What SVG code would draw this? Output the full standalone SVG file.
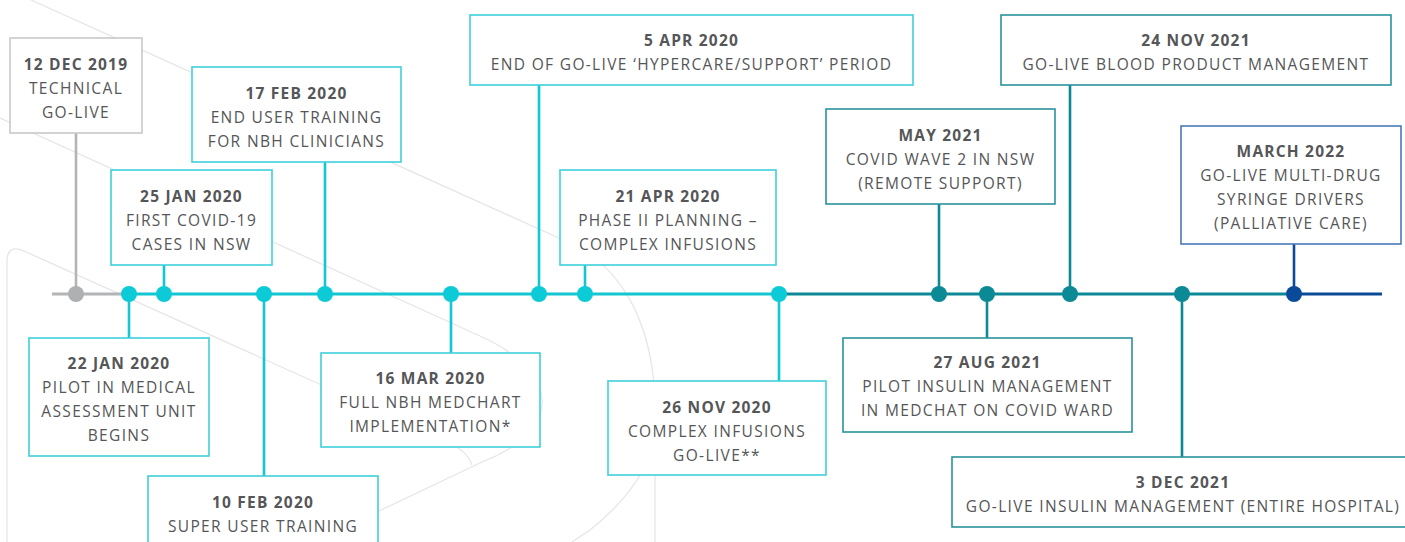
<svg xmlns="http://www.w3.org/2000/svg" width="1405" height="542" viewBox="0 0 1405 542">
<style>
.bg{fill:none;stroke:#e6e6e6;stroke-width:1.3}
.box{fill:#fff;stroke-width:1.6}
.g .box{stroke:#c9c9c9}
.c .box{stroke:#3fd0da}
.d .box{stroke:#2a939d}
.n .box{stroke:#4a78b8}
text{font-family:"Open Sans","Liberation Sans",sans-serif;font-size:15.5px;fill:#555658;text-anchor:middle;letter-spacing:1.35px}
.h{font-weight:700;letter-spacing:1.2px}
.ln{fill:none;stroke-width:2.6}
.tl{fill:none;stroke-width:3}
.gs{stroke:#b2b4b6}
.cs{stroke:#12c6d2}
.ds{stroke:#0b8a95}
.ns{stroke:#0b4a98}
.gf{fill:#aeb0b2}
.cf{fill:#0ccbd6}
.df{fill:#0b8a95}
.nf{fill:#0b4a98}
</style>
<rect width="1405" height="542" fill="#fff"/>
<g id="background">
<path class="bg" d="M31 0 L570 243 C620 266 652 320 655 400 L655 542"/>
<path class="bg" d="M0 118 L480 336 C560 372 565 430 482 462 L150 620"/>
<path class="bg" d="M7 542 L7 260 Q8 244 24 251 L448 442 Q468 452 472 465"/>
<path class="bg" d="M642 472 Q625 502 590 530 L572 542"/>
</g>
<g id="connectors">
<path class="tl gs" d="M52 294 H129"/>
<path class="tl cs" d="M129 294 H779"/>
<path class="tl ds" d="M779 294 H1294"/>
<path class="tl ns" d="M1294 294 H1382"/>
<path class="ln gs" d="M76 133 V294"/>
<path class="ln cs" d="M129 294 V338 M164 265 V294 M264 294 V476 M325 162 V294 M451 294 V353 M539 85 V294 M585 265 V294 M779 294 V381"/>
<path class="ln ds" d="M939 204 V294 M987 294 V338 M1070 85 V294 M1182 294 V457"/>
<path class="ln ns" d="M1294 244 V294"/>
<circle class="gf" cx="76" cy="294" r="8"/>
<circle class="cf" cx="129" cy="294" r="8"/>
<circle class="cf" cx="164" cy="294" r="8"/>
<circle class="cf" cx="264" cy="294" r="8"/>
<circle class="cf" cx="325" cy="294" r="8"/>
<circle class="cf" cx="451" cy="294" r="8"/>
<circle class="cf" cx="539" cy="294" r="8"/>
<circle class="cf" cx="585" cy="294" r="8"/>
<circle class="cf" cx="779" cy="294" r="8"/>
<circle class="df" cx="939" cy="294" r="8"/>
<circle class="df" cx="987" cy="294" r="8"/>
<circle class="df" cx="1070" cy="294" r="8"/>
<circle class="df" cx="1182" cy="294" r="8"/>
<circle class="nf" cx="1294" cy="294" r="8"/>
</g>
<g id="n-12dec2019" class="g"><rect class="box" x="10" y="38" width="132" height="95"/>
<text x="76" y="70" class="h">12 DEC 2019</text><text x="76" y="94">TECHNICAL</text><text x="76" y="118">GO-LIVE</text></g>
<g id="n-17feb2020" class="c"><rect class="box" x="192" y="67" width="209" height="95"/>
<text x="296.5" y="99" class="h">17 FEB 2020</text><text x="296.5" y="123">END USER TRAINING</text><text x="296.5" y="147">FOR NBH CLINICIANS</text></g>
<g id="n-25jan2020" class="c"><rect class="box" x="111" y="170" width="161" height="95"/>
<text x="191.5" y="202" class="h">25 JAN 2020</text><text x="191.5" y="226">FIRST COVID-19</text><text x="191.5" y="250">CASES IN NSW</text></g>
<g id="n-22jan2020" class="c"><rect class="box" x="29" y="338" width="180" height="118"/>
<text x="119" y="369" class="h">22 JAN 2020</text><text x="119" y="393">PILOT IN MEDICAL</text><text x="119" y="417">ASSESSMENT UNIT</text><text x="119" y="441">BEGINS</text></g>
<g id="n-10feb2020" class="c"><rect class="box" x="148" y="476" width="230" height="90"/>
<text x="263" y="508" class="h">10 FEB 2020</text><text x="263" y="532">SUPER USER TRAINING</text></g>
<g id="n-16mar2020" class="c"><rect class="box" x="321" y="353" width="219" height="94"/>
<text x="430.5" y="384" class="h">16 MAR 2020</text><text x="430.5" y="408">FULL NBH MEDCHART</text><text x="430.5" y="432">IMPLEMENTATION*</text></g>
<g id="n-5apr2020" class="c"><rect class="box" x="470" y="15" width="443" height="70"/>
<text x="691.5" y="46" class="h">5 APR 2020</text><text x="691.5" y="70">END OF GO-LIVE ‘HYPERCARE/SUPPORT’ PERIOD</text></g>
<g id="n-21apr2020" class="c"><rect class="box" x="560" y="170" width="216" height="95"/>
<text x="668" y="202" class="h">21 APR 2020</text><text x="668" y="226">PHASE II PLANNING –</text><text x="668" y="250">COMPLEX INFUSIONS</text></g>
<g id="n-26nov2020" class="c"><rect class="box" x="608" y="381" width="218" height="94"/>
<text x="717" y="413" class="h">26 NOV 2020</text><text x="717" y="437">COMPLEX INFUSIONS</text><text x="717" y="461">GO-LIVE**</text></g>
<g id="n-may2021" class="d"><rect class="box" x="826" y="109" width="229" height="95"/>
<text x="940.5" y="141" class="h">MAY 2021</text><text x="940.5" y="165">COVID WAVE 2 IN NSW</text><text x="940.5" y="189">(REMOTE SUPPORT)</text></g>
<g id="n-27aug2021" class="d"><rect class="box" x="843" y="338" width="289" height="94"/>
<text x="987.5" y="368" class="h">27 AUG 2021</text><text x="987.5" y="392">PILOT INSULIN MANAGEMENT</text><text x="987.5" y="416">IN MEDCHAT ON COVID WARD</text></g>
<g id="n-24nov2021" class="d"><rect class="box" x="1001" y="15" width="390" height="70"/>
<text x="1196" y="46" class="h">24 NOV 2021</text><text x="1196" y="70">GO-LIVE BLOOD PRODUCT MANAGEMENT</text></g>
<g id="n-march2022" class="n"><rect class="box" x="1181" y="126" width="220" height="118"/>
<text x="1291" y="157" class="h">MARCH 2022</text><text x="1291" y="181">GO-LIVE MULTI-DRUG</text><text x="1291" y="205">SYRINGE DRIVERS</text><text x="1291" y="229">(PALLIATIVE CARE)</text></g>
<g id="n-3dec2021" class="d"><rect class="box" x="952" y="457" width="470" height="70"/>
<text x="1183" y="488" class="h">3 DEC 2021</text><text x="1183" y="512">GO-LIVE INSULIN MANAGEMENT (ENTIRE HOSPITAL)</text></g>
</svg>
